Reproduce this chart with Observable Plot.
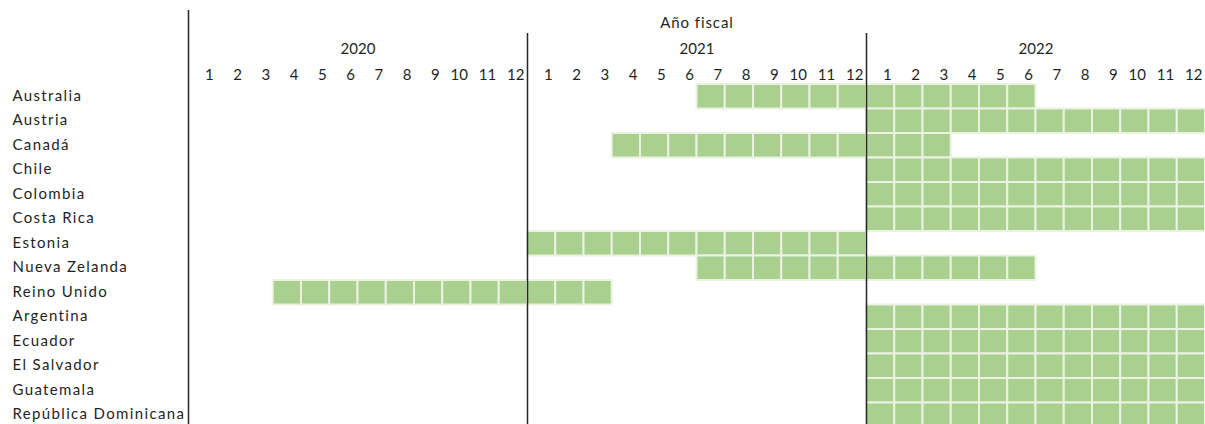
<!DOCTYPE html>
<html>
<head>
<meta charset="utf-8">
<script src="https://cdn.jsdelivr.net/npm/d3@7"></script>
<script src="https://cdn.jsdelivr.net/npm/@observablehq/plot@0.6"></script>
<style>
  html, body { margin: 0; padding: 0; background: #fff; overflow: hidden; }
  #chart svg { display: block; }
  #chart .country-labels text { letter-spacing: 1.35px; }
  #chart .axis-title text { letter-spacing: 0.9px; }
</style>
</head>
<body>
<div id="chart"></div>
<script>
const countries = ["Australia","Austria","Canadá","Chile","Colombia","Costa Rica","Estonia","Nueva Zelanda","Reino Unido","Argentina","Ecuador","El Salvador","Guatemala","República Dominicana"];
const startYear  = [2021, 2022, 2021, 2022, 2022, 2022, 2021, 2021, 2020, 2022, 2022, 2022, 2022, 2022];
const startMonth = [7, 1, 4, 1, 1, 1, 1, 7, 4, 1, 1, 1, 1, 1];
const endYear    = [2022, 2022, 2022, 2022, 2022, 2022, 2021, 2022, 2021, 2022, 2022, 2022, 2022, 2022];
const endMonth   = [6, 12, 3, 12, 12, 12, 12, 6, 3, 12, 12, 12, 12, 12];
const years = [2020, 2021, 2022];
const monthLabels = [1,2,3,4,5,6,7,8,9,10,11,12];
const axisTitle = "Año fiscal";

const firstYear = years[0];
const idx = (y, m) => (y - firstYear) * 12 + (m - 1);

const cells = [];
countries.forEach((c, i) => {
  const s = idx(startYear[i], startMonth[i]);
  const e = idx(endYear[i], endMonth[i]);
  for (let k = s; k <= e; k++) cells.push({country: c, k});
});

const monthTicks = [];
years.forEach((y) => monthLabels.forEach((m) => monthTicks.push({pos: idx(y, m) + 1, label: String(m)})));
const yearTicks = years.map((y) => ({pos: idx(y, 1) + 6, label: String(y)}));

const font = "Lato, 'Open Sans', sans-serif";
const ink = "#1f1f1f";

const chart = Plot.plot({
  width: 1205,
  height: 428,
  marginLeft: 188,
  marginRight: 0,
  marginTop: 84,
  marginBottom: 1,
  style: {fontFamily: font, fontSize: "15px", color: ink, background: "#fff"},
  x: {domain: [0, years.length * 12], axis: null},
  y: {domain: countries, padding: 0, round: false, axis: null},
  marks: [
    Plot.rect(cells, {
      x1: "k", x2: (d) => d.k + 1, y: "country",
      fill: "#A9D08E", stroke: "#EAF2E2", strokeWidth: 2
    }),
    Plot.ruleX([0], {stroke: "#262626", strokeWidth: 1.5, insetTop: -74}),
    Plot.ruleX([12, 24], {stroke: "#262626", strokeWidth: 1.5, insetTop: -51}),
    Plot.text(countries, {
      y: (d) => d, text: (d) => d, frameAnchor: "left", textAnchor: "start", dx: -176, dy: -1,
      fill: ink, fontSize: 15, className: "country-labels"
    }),
    Plot.text(monthTicks, {
      x: "pos", text: "label", frameAnchor: "top", textAnchor: "end", dx: -3, dy: -15,
      fill: ink, fontSize: 15
    }),
    Plot.text(yearTicks, {
      x: "pos", text: "label", frameAnchor: "top", dy: -41,
      fill: ink, fontSize: 15
    }),
    Plot.text([axisTitle], {
      x: [18], text: (d) => d, frameAnchor: "top", dy: -67,
      fill: ink, fontSize: 15, className: "axis-title"
    })
  ]
});
document.getElementById("chart").appendChild(chart);
</script>
</body>
</html>
